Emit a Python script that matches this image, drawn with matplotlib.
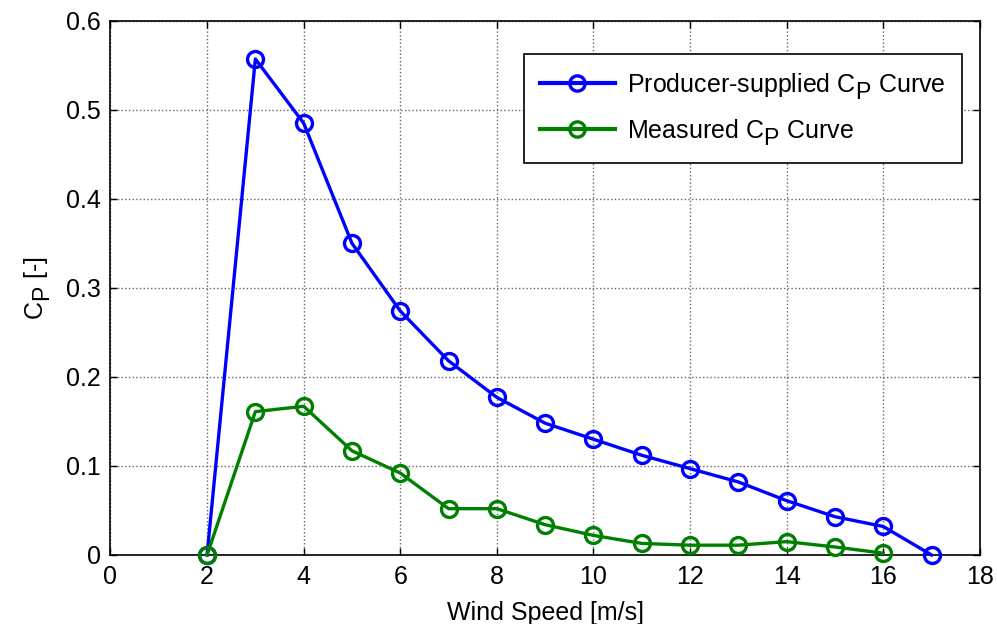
import matplotlib
matplotlib.use("Agg")
import matplotlib.pyplot as plt
import matplotlib._mathtext as _mt

plt.rcParams['font.family'] = ['Liberation Sans', 'DejaVu Sans']
plt.rcParams['mathtext.fontset'] = 'custom'
plt.rcParams['mathtext.rm'] = 'Liberation Sans'
plt.rcParams['mathtext.it'] = 'Liberation Sans'
try:
    _mt.SHRINK_FACTOR = 0.92
    _mt.FontConstantsBase.sub1 = 0.5
    _mt.FontConstantsBase.sub2 = 0.6
except Exception:
    pass

wind_producer = [2, 3, 4, 5, 6, 7, 8, 9, 10, 11, 12, 13, 14, 15, 16, 17]
cp_producer = [0.0, 0.557, 0.485, 0.350, 0.274, 0.218, 0.177, 0.148, 0.130,
               0.112, 0.097, 0.082, 0.061, 0.043, 0.032, 0.0]
wind_measured = [2, 3, 4, 5, 6, 7, 8, 9, 10, 11, 12, 13, 14, 15, 16]
cp_measured = [0.0, 0.161, 0.167, 0.117, 0.092, 0.052, 0.052, 0.034, 0.022,
               0.013, 0.011, 0.011, 0.015, 0.009, 0.002]
x_ticks = [0, 2, 4, 6, 8, 10, 12, 14, 16, 18]
y_ticks = [0, 0.1, 0.2, 0.3, 0.4, 0.5, 0.6]
y_tick_labels = ['0', '0.1', '0.2', '0.3', '0.4', '0.5', '0.6']

fig = plt.figure(figsize=(9.97, 6.24), dpi=100)
ax = fig.add_axes([0.1108, 0.1106, 0.872, 0.8562])

ax.plot(wind_producer, cp_producer, color=(0, 0, 1), lw=2.4, marker='o',
        ms=11.5, mfc='none', mew=2.4, label=r'Producer-supplied C$_{\mathrm{P}}$ Curve',
        clip_on=False, zorder=3)
ax.plot(wind_measured, cp_measured, color=(0, 0.5, 0), lw=2.4, marker='o',
        ms=11.5, mfc='none', mew=2.4, label=r'Measured C$_{\mathrm{P}}$ Curve',
        clip_on=False, zorder=3)

ax.set_xlim(0, 18)
ax.set_ylim(0, 0.6)
ax.set_xticks(x_ticks)
ax.set_yticks(y_ticks)
ax.set_yticklabels(y_tick_labels)
ax.grid(True, linestyle=':', color='#666666', lw=1.0)
ax.tick_params(direction='in', top=True, right=True, labelsize=18, length=5, width=1, pad=7)
for s in ax.spines.values():
    s.set_linewidth(1.2)

ax.set_xlabel('Wind Speed [m/s]', fontsize=18, labelpad=9)
ax.set_ylabel(r'C$_{\mathrm{P}}$ [-]', fontsize=18, labelpad=10)

leg = ax.legend(loc='upper right', bbox_to_anchor=(0.98, 0.937), fontsize=18,
                frameon=True, fancybox=False, edgecolor='black', framealpha=1,
                borderpad=0.65, handlelength=3.0, handletextpad=0.5,
                labelspacing=0.65, borderaxespad=0)
leg.get_frame().set_linewidth(1.2)
for h in leg.legend_handles:
    h.set_linewidth(3)
    h.set_markersize(11)

fig.savefig('out.png', dpi=100)
